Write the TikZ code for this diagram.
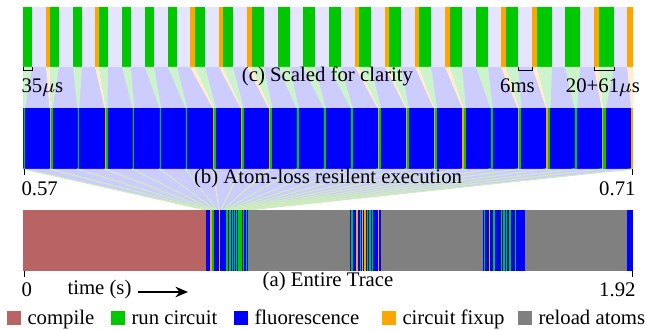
\documentclass[tikz,border=0pt]{standalone}
\usepackage{fontspec}
\setmainfont{Liberation Serif}
\usepackage{xcolor}
\usetikzlibrary{arrows.meta}

\definecolor{compilecol}{HTML}{B86464}
\definecolor{runcol}{HTML}{00C800}
\definecolor{fluocol}{HTML}{0000FF}
\definecolor{fixcol}{HTML}{FFA500}
\definecolor{reloadcol}{HTML}{808080}

\begin{document}
\begin{tikzpicture}[x=0.4pt, y=-0.4pt, font=\fontsize{8.3}{10}\selectfont,
    tick/.style={line width=0.4pt},
    lab/.style={inner sep=0pt},
    stripe/.style={line width=0.45pt},
    fanline/.style={line width=0.3pt},
    timearrow/.style={-{Stealth[length=5pt,width=4.2pt]}, line width=1.1pt}]
    \useasboundingbox (0,0) rectangle (645,330);

    % (c) scaled trace and band down to (b)
    \fill[fluocol!10] (23,7) rectangle (633,67);
    \fill[fluocol!20] (23,67) rectangle (633,108);

    % (b) trace and fan down to (a)
    \fill[fluocol] (23,108) rectangle (633,169);
    \fill[fluocol!20] (23,169) -- (633,169) -- (248,210) -- (206,210) -- cycle;

    % one entry per circuit run: fixup start, run start, run end (in c), start (in b)
    \foreach \fx/\rx/\ry/\bx in {23/23/32/23.5, 46/50/59/49.5, 73/73/82/77.5,
        95/99/108/104.5, 122/122/131/132.5, 145/145/154/159.5, 168/168/177/185.5,
        190/195/205/212.5, 219/223/233/240.5, 247/252/264/268.5, 278/278/290/296.5,
        303/303/315/323.5, 329/329/341/350.5, 355/359/371/377.5, 385/389/401/405.5,
        415/419/431/433.5, 445/450/462/462, 476/476/488/490.5, 501/506/518/517.5,
        532/537/552/546, 565/565/580/574.5, 594/599/614/601.5, 627/633/633/631}{
        \pgfmathsetmacro\bg{\bx+(\rx-\fx)*0.35}
        \pgfmathsetmacro\be{\bg+(\ry-\rx)*0.18}
        \pgfmathsetmacro\af{206+(\bx-23)*0.068852}
        \pgfmathsetmacro\ag{206+(\bg-23)*0.068852}
        \fill[fixcol] (\fx,7) rectangle (\rx,67);
        \fill[runcol] (\rx,7) rectangle (\ry,67);
        \fill[fixcol!20] (\fx,67) -- (\rx,67) -- (\bg,108) -- (\bx,108) -- cycle;
        \fill[runcol!20] (\rx,67) -- (\ry,67) -- (\be,108) -- (\bg,108) -- cycle;
        \fill[fixcol] (\bx,108) rectangle (\bg,169);
        \fill[runcol] (\bg,108) rectangle (\be,169);
        \draw[fanline, fixcol!30] (\bx,169) -- (\af,210);
        \draw[fanline, runcol!25] (\bg,169) -- (\ag,210);
    }

    % (a) entire trace
    \foreach \xa/\xb/\c in {23/206/compilecol, 206/248/fluocol, 248/350/reloadcol,
        350/381/fluocol, 381/483/reloadcol, 483/525/fluocol, 525/627/reloadcol,
        627/633/fluocol}
        \fill[\c] (\xa,210) rectangle (\xb,271);
    \foreach \x in {213,227,230,232.5,234.5,236.5,239,241,243.5,246.5,
        352,360.5,367.5,370,372.5, 484.3,494,501.7,504,506.7,510,515.5}
        \draw[stripe, runcol] (\x,210) -- (\x,271);
    \foreach \x in {211,219.5, 357,362.5,365,378.5, 489.5}
        \draw[stripe, fixcol] (\x,210) -- (\x,271);

    % brackets on (c)
    \draw[tick] (23,67) |- (32,71) -- (32,67);
    \draw[tick] (518,67) |- (532,71) -- (532,67);
    \draw[tick] (594,67) |- (614,71) -- (614,67);

    % ticks
    \foreach \x in {24,632} {
        \draw[tick] (\x,169) -- (\x,175);
        \draw[tick] (\x,271) -- (\x,277);
    }

    % labels
    \node[lab, anchor=base] (capc) at (327.5,82) {(c) Scaled for clarity};
    \node[lab, anchor=base west] (labrun) at (21,93) {35$\mu$s};
    \node[lab, anchor=base] (labfluo) at (517.5,93) {6ms};
    \node[lab, anchor=base] (labfix) at (603,93) {20+61$\mu$s};

    \node[lab, anchor=base] (capb) at (328,184) {(b) Atom-loss resilent execution};
    \node[lab, anchor=base west] (labbl) at (21,196) {0.57};
    \node[lab, anchor=base east] (labbr) at (636,196) {0.71};

    \node[lab, anchor=base] (capa) at (328,287) {(a) Entire Trace};
    \node[lab, anchor=base west] (labal) at (21,297) {0};
    \node[lab, anchor=base east] (labar) at (636,297) {1.92};

    % time arrow
    \node[lab, anchor=base west] (timelab) at (67,295) {time (s)};
    \coordinate (timeend) at (188,292);
    \draw[timearrow] (timelab.east |- timeend) ++(6,0) -- (timeend);

    % legend
    \foreach \x/\c/\legtext [count=\i] in {7/compilecol/compile, 111/runcol/run circuit,
        234/fluocol/fluorescence, 382/fixcol/circuit fixup, 518/reloadcol/reload atoms}{
        \fill[\c] (\x,311) rectangle ++(14,14);
        \node[lab, anchor=base west] (leg\i) at (\x+20,325) {\legtext};
    }
\end{tikzpicture}
\end{document}
